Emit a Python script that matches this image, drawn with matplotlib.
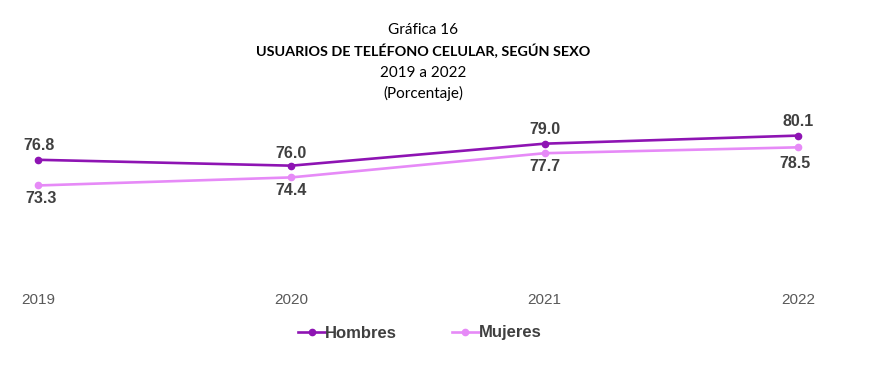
import matplotlib
matplotlib.use("Agg")
import matplotlib.pyplot as plt

years = ["2019", "2020", "2021", "2022"]
hombres = [76.8, 76.0, 79.0, 80.1]
mujeres = [73.3, 74.4, 77.7, 78.5]
series_names = ["Hombres", "Mujeres"]
title_lines = ["Gráfica 16", "USUARIOS DE TELÉFONO CELULAR, SEGÚN SEXO", "2019 a 2022", "(Porcentaje)"]

c_h = "#8E14B3"
c_m = "#E68AF7"
lbl_col = "#404040"

W, H = 886, 365
fig = plt.figure(figsize=(W / 100, H / 100), dpi=100)
ax = fig.add_axes([0, 1 - 283 / H, 874 / W, (283 - 107) / H])
x = list(range(len(years)))
ax.plot(x, hombres, color=c_h, lw=1.9, marker="o", ms=4.5, label=series_names[0])
ax.plot(x, mujeres, color=c_m, lw=1.9, marker="o", ms=4.5, label=series_names[1])
ax.set_xlim(-0.15, 3.3)
ax.set_ylim(60, 84)
for s in ax.spines.values():
    s.set_visible(False)
ax.set_yticks([])
ax.set_xticks(x)
ax.set_xticklabels(years, fontsize=11, color="#595959", family="Liberation Sans")
ax.tick_params(axis="x", length=0, pad=7)

h_off = [(1, 10.5), (0, 9), (0, 10), (0, 10)]
m_off = [(2, -9.5), (0, -9.5), (0, -9.5), (-2, -11.5)]
for xi, v, o in zip(x, hombres, h_off):
    ax.annotate(f"{v:.1f}", (xi, v), xytext=o, textcoords="offset points",
                ha="center", va="center", fontsize=11.5, fontweight="bold",
                color=lbl_col, family="Liberation Sans")
for xi, v, o in zip(x, mujeres, m_off):
    ax.annotate(f"{v:.1f}", (xi, v), xytext=o, textcoords="offset points",
                ha="center", va="center", fontsize=11.5, fontweight="bold",
                color=lbl_col, family="Liberation Sans")

leg = fig.legend(loc="center", bbox_to_anchor=(0.474, 1 - 333 / H), ncol=2, frameon=False,
                 prop={"family": "Liberation Sans", "weight": "bold", "size": 12},
                 handlelength=1.6, handletextpad=0.0, columnspacing=3.3)
for t in leg.get_texts():
    t.set_color(lbl_col)

ys = [30, 51, 73, 93]
sizes = [11, 10.4, 11, 11]
for i, (t, yy, fs) in enumerate(zip(title_lines, ys, sizes)):
    fig.text(423 / W, 1 - yy / H, t, ha="center", va="center", fontsize=fs,
             fontweight="bold" if i == 1 else "normal", family="Lato", color="black")

fig.savefig("out.png", dpi=100)
